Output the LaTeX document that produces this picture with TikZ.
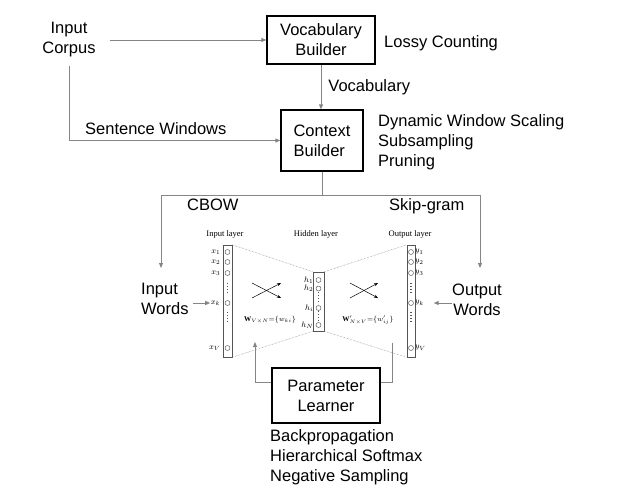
\documentclass[tikz,border=0pt]{standalone}
\usepackage{fontspec}
\setmainfont{Liberation Serif}
\setsansfont{Liberation Sans}
\usetikzlibrary{arrows.meta, positioning, calc}
\usepackage{xcolor}
\definecolor{WireGray}{HTML}{858585}
\definecolor{NetGray}{HTML}{555555}
\tikzset{
  blk/.style={draw=black, line width=1.3pt, align=center, inner sep=0pt,
    font=\sffamily\fontsize{16.5}{20}\selectfont},
  note/.style={inner sep=0pt, align=left, font=\sffamily\fontsize{16.5}{20}\selectfont},
  conn/.style={-{Triangle[length=5pt, width=4pt]}, draw=WireGray, line width=0.9pt},
  wire/.style={draw=WireGray, line width=0.9pt},
  layer/.style={draw=NetGray, line width=0.5pt, inner sep=0pt},
  unit/.style={circle, draw=NetGray, line width=0.45pt, minimum size=5pt, inner sep=0pt},
  lbl/.style={inner sep=0pt, font=\fontsize{8.5}{10}\selectfont},
  var/.style={inner sep=0.5pt, font=\fontsize{8}{9}\selectfont},
  wlbl/.style={inner sep=0pt, font=\fontsize{7.2}{8}\selectfont},
  fan/.style={draw=gray, densely dotted, line width=0.5pt},
  dotline/.style={draw=NetGray, line width=1.2pt, dash pattern=on 1.2pt off 1.8pt},
  cross/.style={-{Stealth[length=4pt, width=3pt]}, line width=0.5pt},
}

\begin{document}
\begin{tikzpicture}[x=1pt, y=-1pt]
  \useasboundingbox (0,0) rectangle (621,496);

  % pipeline boxes
  \node[blk, minimum width=108pt, minimum height=48pt] (vocab) at (321,40) {Vocabulary\\Builder};
  \node[blk, align=left, minimum width=82pt, minimum height=61pt] (context) at (322,140.5) {Context\\Builder};
  \node[blk, minimum width=108pt, minimum height=55pt] (param) at (326,395.5) {Parameter\\Learner};

  % annotations
  \node[note, align=center] (corpus) at (69,40) {Input\\Corpus};
  \node[note, anchor=base west] (lossy) at (384,47) {Lossy Counting};
  \node[note, anchor=west] (tricks) at (378,142) {Dynamic Window Scaling\\Subsampling\\Pruning};
  \node[note, anchor=base west] (sentwin) at (85,134) {Sentence Windows};
  \node[note, anchor=base west] (cbow) at (187,210) {CBOW};
  \node[note, anchor=base west] (skip) at (389,210) {Skip-gram};
  \node[note, anchor=west] (inwords) at (141,299) {Input\\Words};
  \node[note, align=center] (outwords) at (477,300) {Output\\Words};
  \node[note, anchor=west] (optim) at (270,457) {Backpropagation\\Hierarchical Softmax\\Negative Sampling};

  % network layers
  \node[layer, minimum width=9pt, minimum height=112pt] (inlayer) at (227.5,301) {};
  \node[layer, minimum width=11pt, minimum height=59pt] (hidlayer) at (318.5,301.5) {};
  \node[layer, minimum width=8pt, minimum height=112pt] (outlayer) at (411,301) {};
  \node[lbl] (intitle) at (225,234) {Input layer};
  \node[lbl] (hidtitle) at (316,234) {Hidden layer};
  \node[lbl] (outtitle) at (410,234) {Output layer};

  \foreach \n/\yy in {1/252, 2/262, 3/273, k/303, V/348} {
    \node[unit] (x\n) at (227.5,\yy) {};
    \node[var, anchor=east] (lx\n) at (221,\yy) {$x_{\n}$};
    \node[unit] (y\n) at (411,\yy) {};
    \node[var, anchor=west] (ly\n) at (414.5,\yy) {$y_{\n}$};
  }
  \foreach \n/\yy in {1/280, 2/288.5, i/308, N/325} {
    \node[unit] (h\n) at (318.5,\yy) {};
    \node[var, anchor=east] (lh\n) at (314,\yy) {$h_{\n}$};
  }
  \foreach \xx in {227.5, 411} {
    \draw[dotline] (\xx,283) -- (\xx,294);
    \draw[dotline] (\xx,312) -- (\xx,323);
  }
  \draw[dotline] (318.5,292) -- (318.5,304);
  \draw[dotline] (318.5,311) -- (318.5,322);

  \draw[fan] (inlayer.north east) -- (hidlayer.north west);
  \draw[fan] (inlayer.south east) -- (hidlayer.south west);
  \draw[fan] (hidlayer.north east) -- (outlayer.north west);
  \draw[fan] (hidlayer.south east) -- (outlayer.south west);

  \draw[cross] (252,283) -- (281,298);
  \draw[cross] (252,298) -- (281,283);
  \draw[cross] (350,283) -- (378,298);
  \draw[cross] (350,298) -- (378,283);
  \node[wlbl] (win) at (270,320) {$\mathbf{W}_{V\times N}{=}\{w_{ki}\}$};
  \node[wlbl] (wout) at (368,320) {$\mathbf{W}'_{N\times V}{=}\{w'_{ij}\}$};

  % connectors
  \coordinate (split) at (322,195);
  \coordinate (cbowend) at (161,268);
  \coordinate (skipend) at (480,268);
  \coordinate (inback) at (255,342);
  \coordinate (outback) at (392,343);
  \draw[conn] ([xshift=14pt]corpus.east) -- (vocab.west);
  \draw[conn] (vocab.south) -- node[note, right=7pt] (vocabtxt) {Vocabulary} (vocab.south |- context.north);
  \draw[conn] ([yshift=-8pt]corpus.south) |- (context.west);
  \draw[wire] (context.south) -- (split);
  \draw[conn] (split) -| (cbowend);
  \draw[conn] (split) -| (skipend);
  \draw[conn] ([xshift=4pt]inwords.east |- lxk) -- (lxk.west);
  \draw[conn] (outwords.west |- lyk) -- ([xshift=9pt]lyk.east);
  \draw[conn] ([yshift=13pt]param.west) -| (inback);
  \draw[wire] ([yshift=13pt]param.east) -| (outback);
\end{tikzpicture}
\end{document}
